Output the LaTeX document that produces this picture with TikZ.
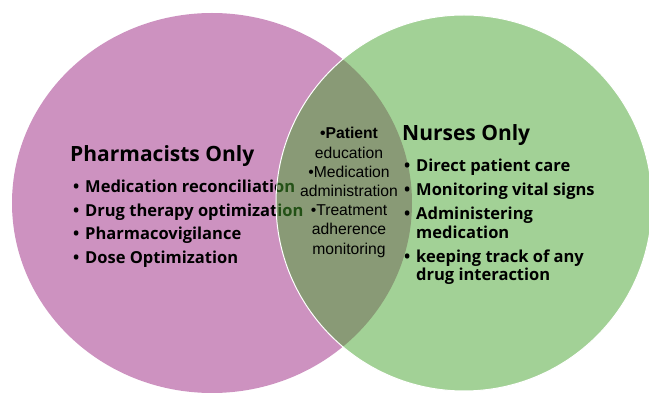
\documentclass[tikz,border=0pt]{standalone}
\usepackage{fontspec}
\setmainfont{Open Sans}
\newfontfamily\midfont{Liberation Sans}
\definecolor{pharmpink}{RGB}{205,146,192}
\definecolor{nursegreen}{RGB}{70,163,45}

\begin{document}
\begin{tikzpicture}[x=1pt,y=-1pt,inner sep=0pt]
  \tikzstyle{title}=[anchor=base west,font=\bfseries\fontsize{21}{25}\selectfont]
  \tikzstyle{items}=[anchor=base west,font=\bfseries\fontsize{16.5}{23.5}\selectfont]
  \useasboundingbox (0,0) rectangle (649,395);

  \fill[pharmpink] (212,203) ellipse [x radius=200pt, y radius=190pt];
  \node[title] (pharm)     at (70,162) {Pharmacists Only};
  \node[items] (pharmlist) at (73,193) {\begin{tabular}[t]{@{}p{12pt}@{}l@{}}
      \textbullet & Medication reconciliation\\
      \textbullet & Drug therapy optimization\\
      \textbullet & Pharmacovigilance\\
      \textbullet & Dose Optimization
    \end{tabular}};

  \filldraw[fill=nursegreen,fill opacity=.5,draw=white,line width=1pt]
    (464,203) ellipse [x radius=188pt, y radius=188pt];

  \node[align=center,font=\midfont\fontsize{15.7}{19.2}\selectfont] (both) at (349,192.5)
    {{\bfseries\textbullet Patient}\\education\\\textbullet Medication\\administration\\
     \textbullet Treatment\\adherence\\monitoring};

  \node[title] (nurse)     at (402,141) {Nurses Only};
  \node[items,font=\bfseries\fontsize{16.5}{18.5}\selectfont] (nurselist) at (404,172)
    {\begin{tabular}[t]{@{}p{12pt}@{}l@{}}
      \textbullet & Direct patient care\\[5.5pt]
      \textbullet & Monitoring vital signs\\[5.5pt]
      \textbullet & Administering\\
                  & medication\\[5.5pt]
      \textbullet & keeping track of any\\
                  & drug interaction
    \end{tabular}};
\end{tikzpicture}
\end{document}
